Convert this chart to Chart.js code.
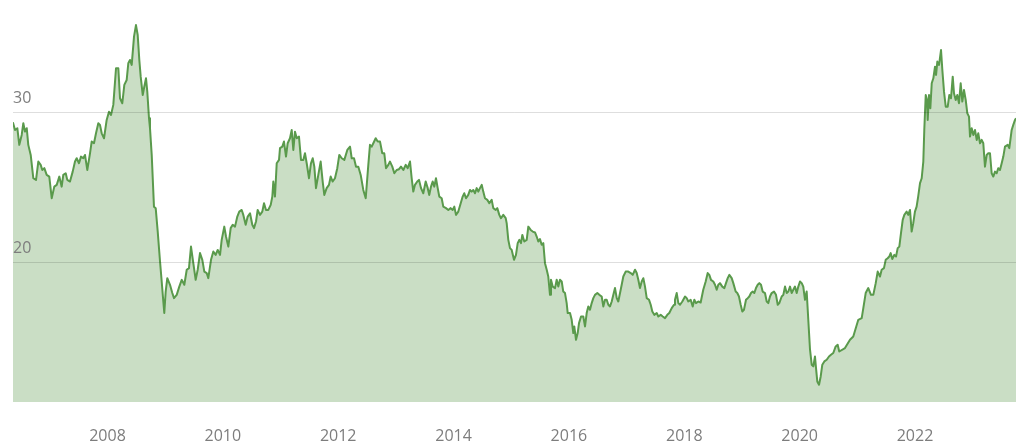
<!DOCTYPE html>
<html>
<head>
<meta charset="utf-8">
<script src="https://cdn.jsdelivr.net/npm/chart.js@4.4.0/dist/chart.umd.min.js"></script>
<style>
  html, body { margin: 0; padding: 0; background: #ffffff; }
  #wrap { width: 1024px; height: 446px; position: relative; }
</style>
</head>
<body>
<div id="wrap"><canvas id="c" width="1024" height="446"></canvas></div>
<script>
// Decimal-year dates of each observation
const dates = [
  2006.36, 2006.397, 2006.437, 2006.471, 2006.513, 2006.541, 2006.570, 2006.600, 2006.627, 2006.669,
  2006.714, 2006.761, 2006.801, 2006.842, 2006.870, 2006.905, 2006.946, 2006.991, 2007.033, 2007.078,
  2007.120, 2007.165, 2007.206, 2007.234, 2007.276, 2007.303, 2007.350, 2007.397, 2007.437, 2007.466,
  2007.506, 2007.541, 2007.581, 2007.610, 2007.650, 2007.697, 2007.726, 2007.766, 2007.801, 2007.841,
  2007.870, 2007.900, 2007.940, 2007.986, 2008.026, 2008.061, 2008.101, 2008.148, 2008.188, 2008.217,
  2008.257, 2008.292, 2008.333, 2008.361, 2008.390, 2008.420, 2008.460, 2008.494, 2008.524, 2008.552,
  2008.576, 2008.611, 2008.638, 2008.668, 2008.690, 2008.720, 2008.737, 2008.767, 2008.806, 2008.836,
  2008.871, 2008.893, 2008.911, 2008.940, 2008.968, 2008.985, 2009.009, 2009.037, 2009.084, 2009.124,
  2009.153, 2009.200, 2009.245, 2009.287, 2009.332, 2009.374, 2009.413, 2009.448, 2009.488, 2009.529,
  2009.564, 2009.604, 2009.644, 2009.679, 2009.720, 2009.748, 2009.795, 2009.835, 2009.876, 2009.911,
  2009.951, 2009.980, 2010.025, 2010.055, 2010.095, 2010.136, 2010.171, 2010.211, 2010.251, 2010.285,
  2010.327, 2010.355, 2010.396, 2010.431, 2010.471, 2010.511, 2010.540, 2010.575, 2010.604, 2010.644,
  2010.684, 2010.714, 2010.748, 2010.788, 2010.830, 2010.858, 2010.875, 2010.904, 2010.934, 2010.974,
  2010.991, 2011.031, 2011.060, 2011.095, 2011.124, 2011.164, 2011.194, 2011.222, 2011.251, 2011.281,
  2011.320, 2011.355, 2011.395, 2011.424, 2011.454, 2011.494, 2011.528, 2011.558, 2011.586, 2011.615,
  2011.655, 2011.696, 2011.731, 2011.759, 2011.800, 2011.840, 2011.870, 2011.904, 2011.944, 2011.984,
  2012.019, 2012.061, 2012.106, 2012.158, 2012.205, 2012.234, 2012.274, 2012.309, 2012.349, 2012.390,
  2012.435, 2012.477, 2012.522, 2012.551, 2012.581, 2012.609, 2012.650, 2012.685, 2012.725, 2012.764,
  2012.799, 2012.829, 2012.869, 2012.898, 2012.938, 2012.973, 2013.014, 2013.054, 2013.089, 2013.129,
  2013.170, 2013.205, 2013.245, 2013.274, 2013.302, 2013.331, 2013.371, 2013.401, 2013.436, 2013.475,
  2013.517, 2013.552, 2013.579, 2013.609, 2013.638, 2013.666, 2013.695, 2013.725, 2013.753, 2013.794,
  2013.822, 2013.869, 2013.909, 2013.950, 2013.985, 2014.013, 2014.042, 2014.082, 2014.124, 2014.158,
  2014.186, 2014.216, 2014.255, 2014.285, 2014.314, 2014.342, 2014.372, 2014.401, 2014.429, 2014.458,
  2014.488, 2014.515, 2014.545, 2014.585, 2014.620, 2014.661, 2014.689, 2014.731, 2014.758, 2014.793,
  2014.822, 2014.862, 2014.904, 2014.921, 2014.949, 2014.978, 2015.008, 2015.048, 2015.082, 2015.112,
  2015.140, 2015.169, 2015.192, 2015.226, 2015.268, 2015.296, 2015.337, 2015.372, 2015.412, 2015.441,
  2015.469, 2015.498, 2015.528, 2015.556, 2015.585, 2015.615, 2015.642, 2015.672, 2015.689, 2015.719,
  2015.759, 2015.788, 2015.816, 2015.845, 2015.875, 2015.902, 2015.932, 2015.961, 2015.979, 2016.019,
  2016.048, 2016.076, 2016.093, 2016.123, 2016.152, 2016.175, 2016.210, 2016.249, 2016.279, 2016.308,
  2016.336, 2016.365, 2016.395, 2016.423, 2016.452, 2016.492, 2016.527, 2016.568, 2016.596, 2016.626,
  2016.655, 2016.683, 2016.712, 2016.742, 2016.770, 2016.799, 2016.829, 2016.856, 2016.886, 2016.915,
  2016.943, 2016.984, 2017.029, 2017.071, 2017.106, 2017.146, 2017.175, 2017.203, 2017.232, 2017.262,
  2017.290, 2017.319, 2017.349, 2017.389, 2017.418, 2017.446, 2017.480, 2017.522, 2017.550, 2017.591,
  2017.626, 2017.666, 2017.706, 2017.740, 2017.782, 2017.822, 2017.839, 2017.869, 2017.897, 2017.926,
  2017.966, 2018.013, 2018.042, 2018.070, 2018.111, 2018.146, 2018.174, 2018.203, 2018.243, 2018.284,
  2018.329, 2018.371, 2018.406, 2018.434, 2018.463, 2018.503, 2018.533, 2018.562, 2018.590, 2018.619,
  2018.659, 2018.694, 2018.723, 2018.753, 2018.781, 2018.822, 2018.850, 2018.891, 2018.919, 2018.948,
  2018.978, 2019.006, 2019.035, 2019.070, 2019.100, 2019.127, 2019.157, 2019.186, 2019.214, 2019.243,
  2019.273, 2019.301, 2019.330, 2019.359, 2019.399, 2019.429, 2019.457, 2019.486, 2019.515, 2019.555,
  2019.590, 2019.620, 2019.647, 2019.689, 2019.717, 2019.746, 2019.776, 2019.804, 2019.833, 2019.862,
  2019.890, 2019.919, 2019.949, 2019.977, 2020.006, 2020.036, 2020.063, 2020.093, 2020.122, 2020.150,
  2020.180, 2020.209, 2020.237, 2020.266, 2020.284, 2020.306, 2020.336, 2020.365, 2020.393, 2020.428,
  2020.469, 2020.509, 2020.543, 2020.583, 2020.625, 2020.659, 2020.687, 2020.786, 2020.873, 2020.930,
  2021.017, 2021.076, 2021.104, 2021.145, 2021.190, 2021.237, 2021.277, 2021.319, 2021.353, 2021.393,
  2021.422, 2021.462, 2021.492, 2021.526, 2021.554, 2021.578, 2021.606, 2021.641, 2021.671, 2021.700,
  2021.728, 2021.757, 2021.787, 2021.815, 2021.855, 2021.883, 2021.913, 2021.942, 2021.970, 2021.999,
  2022.028, 2022.055, 2022.087, 2022.116, 2022.144, 2022.161, 2022.186, 2022.208, 2022.220, 2022.243,
  2022.266, 2022.290, 2022.318, 2022.347, 2022.365, 2022.387, 2022.417, 2022.451, 2022.474, 2022.503,
  2022.533, 2022.567, 2022.595, 2022.624, 2022.654, 2022.676, 2022.706, 2022.733, 2022.763, 2022.792,
  2022.820, 2022.849, 2022.879, 2022.907, 2022.936, 2022.954, 2022.983, 2023.011, 2023.040, 2023.070,
  2023.097, 2023.127, 2023.156, 2023.184, 2023.213, 2023.243, 2023.271, 2023.300, 2023.329, 2023.357,
  2023.387, 2023.416, 2023.444, 2023.473, 2023.503, 2023.531, 2023.560, 2023.607, 2023.635, 2023.676,
  2023.704, 2023.734, 2023.751
];

// Price at each date
const prices = [
  29.34, 28.82, 28.94, 27.83, 28.49, 29.27, 28.71, 28.94, 27.83, 27.16,
  25.61, 25.50, 26.72, 26.50, 26.16, 26.28, 25.83, 25.72, 24.28, 25.05,
  25.17, 25.72, 25.05, 25.83, 25.94, 25.50, 25.39, 26.05, 26.72, 26.94,
  26.61, 27.05, 26.94, 27.16, 26.16, 27.27, 28.05, 27.94, 28.60, 29.27,
  29.16, 28.60, 28.27, 29.49, 30.04, 29.82, 30.49, 32.93, 32.93, 30.93,
  30.60, 31.82, 32.15, 33.26, 33.48, 33.15, 35.03, 35.80, 35.14, 33.48,
  32.37, 31.15, 31.70, 32.26, 31.37, 29.60, 28.94, 27.16, 23.72, 23.62,
  22.06, 20.96, 20.07, 18.74, 17.41, 16.64, 18.07, 18.96, 18.52, 17.97,
  17.63, 17.85, 18.40, 18.85, 18.52, 19.52, 19.63, 21.06, 19.96, 18.85,
  19.52, 20.63, 20.18, 19.40, 19.30, 18.96, 20.18, 20.73, 20.51, 20.84,
  20.51, 21.51, 22.39, 21.73, 21.06, 22.29, 22.51, 22.39, 23.06, 23.39,
  23.50, 23.17, 22.51, 23.06, 23.28, 22.51, 22.29, 22.73, 23.50, 23.17,
  23.39, 23.95, 23.50, 23.50, 23.84, 24.39, 25.39, 24.39, 26.61, 26.83,
  27.61, 27.71, 28.05, 27.05, 27.94, 28.27, 28.82, 27.49, 28.71, 28.27,
  28.38, 26.83, 26.83, 27.27, 26.61, 25.61, 26.61, 26.94, 26.38, 24.95,
  25.83, 26.72, 25.39, 24.50, 24.95, 25.17, 25.72, 25.39, 25.61, 26.28,
  27.16, 26.94, 26.83, 27.49, 27.71, 26.94, 26.94, 26.38, 26.38, 25.83,
  24.83, 24.28, 26.50, 27.83, 27.71, 27.94, 28.27, 28.05, 28.05, 27.27,
  27.27, 26.28, 26.50, 26.72, 26.38, 25.94, 26.16, 26.21, 26.38, 26.16,
  26.50, 26.28, 26.72, 25.61, 24.72, 25.17, 25.39, 25.50, 24.95, 24.61,
  25.39, 24.95, 24.50, 25.05, 25.39, 25.05, 25.61, 24.95, 24.39, 24.28,
  23.72, 23.62, 23.50, 23.62, 23.50, 23.72, 23.17, 23.39, 23.95, 24.39,
  24.61, 24.28, 24.50, 24.83, 24.72, 24.83, 24.61, 24.95, 24.72, 24.95,
  25.17, 24.72, 24.28, 24.17, 23.95, 24.17, 23.62, 23.50, 23.62, 23.17,
  22.95, 23.17, 22.95, 22.62, 21.51, 20.96, 20.84, 20.18, 20.51, 21.29,
  21.51, 21.29, 21.84, 21.40, 21.51, 22.39, 22.17, 22.06, 22.00, 21.73,
  21.40, 21.56, 21.18, 21.29, 19.96, 19.52, 19.07, 17.85, 18.85, 18.40,
  18.30, 18.85, 18.40, 18.85, 18.74, 18.07, 17.97, 17.30, 16.64, 16.64,
  16.19, 15.31, 15.75, 14.86, 15.31, 15.97, 16.41, 16.41, 15.75, 16.64,
  17.08, 16.86, 17.30, 17.63, 17.85, 17.97, 17.85, 17.74, 17.08, 17.52,
  17.52, 17.19, 17.08, 17.41, 17.85, 18.30, 17.63, 17.41, 17.97, 18.52,
  19.07, 19.40, 19.40, 19.30, 19.18, 19.52, 19.30, 18.85, 18.30, 18.74,
  18.96, 18.40, 17.63, 17.52, 17.19, 16.74, 16.52, 16.64, 16.41, 16.52,
  16.41, 16.30, 16.52, 16.64, 16.97, 17.19, 17.52, 17.97, 17.30, 17.19,
  17.41, 17.74, 17.63, 17.41, 17.52, 17.08, 17.52, 17.30, 17.41, 17.34,
  18.19, 18.74, 19.30, 19.18, 18.85, 18.74, 18.52, 18.19, 18.52, 18.63,
  18.40, 18.30, 18.63, 18.96, 19.18, 18.96, 18.63, 18.07, 17.97, 17.74,
  17.19, 16.74, 16.86, 17.52, 17.63, 17.74, 17.97, 18.07, 17.97, 18.30,
  18.52, 18.63, 18.52, 18.07, 17.97, 17.41, 17.30, 17.74, 17.97, 18.07,
  17.85, 17.19, 17.30, 17.74, 17.85, 18.40, 17.97, 18.07, 18.40, 17.97,
  18.19, 18.40, 17.97, 18.40, 18.74, 18.63, 18.40, 17.52, 18.07, 16.19,
  14.20, 13.20, 13.09, 13.75, 12.98, 12.09, 11.87, 12.42, 13.20, 13.42,
  13.53, 13.75, 13.86, 13.98, 14.42, 14.53, 14.08, 14.31, 14.86, 15.08,
  16.19, 16.30, 16.97, 17.97, 18.30, 17.85, 17.85, 18.63, 19.40, 19.07,
  19.52, 19.63, 20.18, 20.29, 20.40, 20.63, 20.23, 20.51, 20.40, 20.96,
  21.06, 21.96, 22.84, 23.17, 23.39, 23.17, 23.50, 22.06, 22.62, 23.39,
  23.72, 24.39, 25.28, 25.61, 26.72, 28.82, 31.15, 30.82, 29.49, 31.15,
  30.27, 31.93, 32.26, 33.03, 32.48, 33.37, 33.15, 34.14, 32.81, 31.37,
  30.37, 30.37, 31.15, 30.93, 32.37, 31.26, 30.82, 31.15, 30.60, 31.93,
  30.71, 31.48, 30.82, 29.93, 29.71, 28.38, 28.94, 28.49, 28.82, 28.16,
  28.60, 27.94, 28.16, 27.94, 26.38, 27.16, 27.27, 27.27, 25.94, 25.72,
  26.05, 25.94, 26.28, 26.16, 26.61, 27.05, 27.71, 27.83, 27.61, 28.82,
  29.16, 29.49, 29.60
];

// Axis tick values shown
const xTickYears = [2008, 2010, 2012, 2014, 2016, 2018, 2020, 2022];
const yTickValues = [20, 30];

// Visible ranges of the axes
const xRange = [2006.362, 2023.751];
const yRange = [10.72, 37.47];

const points = dates.map((d, i) => ({ x: d, y: prices[i] }));

new Chart(document.getElementById('c'), {
  type: 'line',
  data: {
    datasets: [{
      data: points,
      borderColor: '#5a9a4c',
      borderWidth: 2,
      backgroundColor: '#cadec5',
      fill: 'start',
      pointRadius: 0,
      pointHoverRadius: 0,
      tension: 0,
      borderJoinStyle: 'round'
    }]
  },
  options: {
    responsive: false,
    animation: false,
    events: [],
    layout: { padding: { left: 13, right: 8, top: 0, bottom: 0 } },
    plugins: { legend: { display: false }, tooltip: { enabled: false } },
    scales: {
      x: {
        type: 'linear',
        min: xRange[0],
        max: xRange[1],
        grid: { display: false, drawTicks: false },
        border: { display: false },
        afterBuildTicks: (scale) => { scale.ticks = xTickYears.map(v => ({ value: v })); },
        afterFit: (scale) => { scale.height = 44; scale.paddingLeft = 0; scale.paddingRight = 0; },
        ticks: {
          autoSkip: false,
          maxRotation: 0,
          padding: 25,
          color: '#7d7d7d',
          font: { family: '"Open Sans", sans-serif', size: 16 },
          callback: (v) => String(v)
        }
      },
      y: {
        type: 'linear',
        min: yRange[0],
        max: yRange[1],
        grid: { color: 'rgba(0,0,0,0.13)', lineWidth: 1, drawTicks: false, z: 1 },
        border: { display: false },
        afterBuildTicks: (scale) => { scale.ticks = yTickValues.map(v => ({ value: v })); },
        afterFit: (scale) => { scale.paddingTop = 0; scale.paddingBottom = 0; },
        ticks: {
          z: 2,
          mirror: true,
          padding: 0,
          labelOffset: -14,
          color: '#7d7d7d',
          font: { family: '"Open Sans", sans-serif', size: 16 },
          callback: (v) => String(v)
        }
      }
    }
  }
});
</script>
</body>
</html>
